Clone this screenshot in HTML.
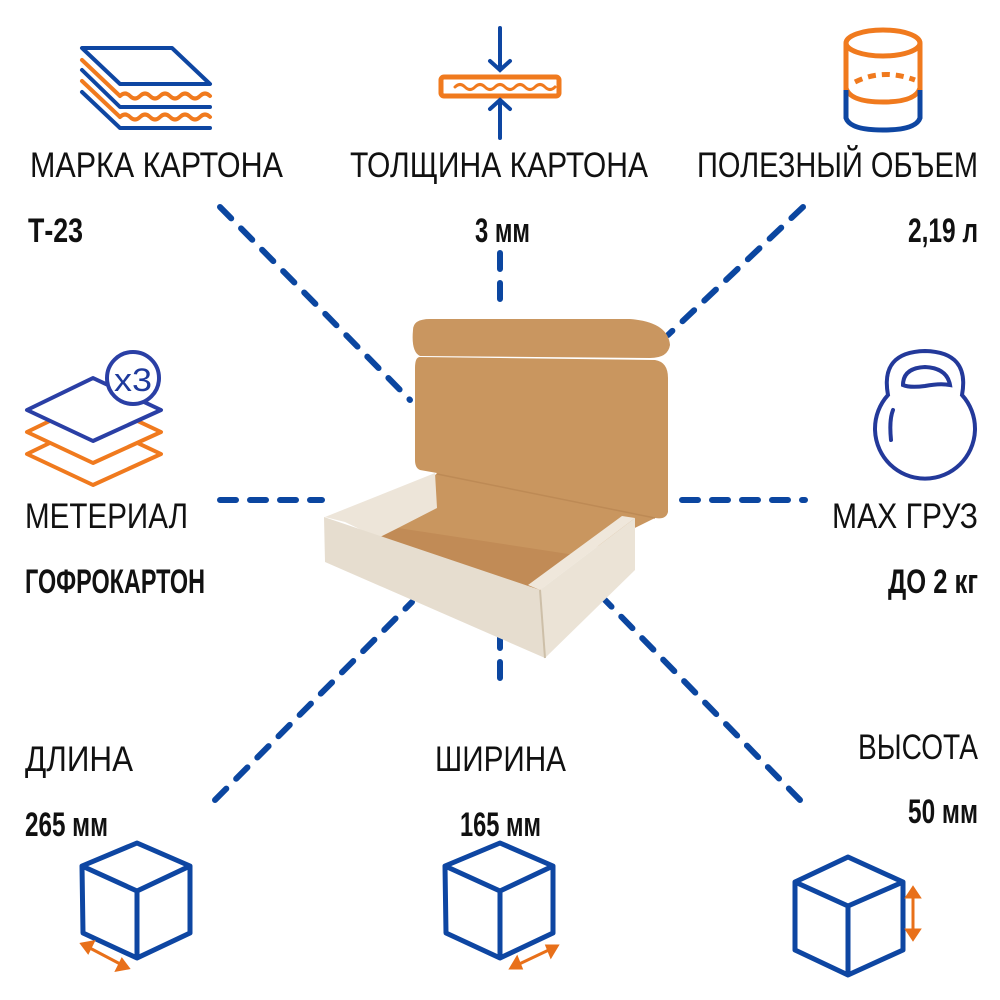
<!DOCTYPE html>
<html><head><meta charset="utf-8"><style>
html,body{margin:0;padding:0;background:#fff;width:1000px;height:1000px;overflow:hidden}
text{font-family:"Liberation Sans",sans-serif;fill:#111}
.l{font-size:35px}
.v{font-size:34px;font-weight:bold}
</style></head><body>
<svg width="1000" height="1000" viewBox="0 0 1000 1000" xmlns="http://www.w3.org/2000/svg">
<g stroke="#0b46a0" stroke-width="6" stroke-linecap="round" stroke-dasharray="16 14" fill="none">
<line x1="220" y1="207" x2="410" y2="400"/>
<line x1="500" y1="253" x2="500" y2="312"/>
<line x1="803" y1="207" x2="668" y2="335"/>
<line x1="220" y1="500" x2="322" y2="500"/>
<line x1="682" y1="500" x2="805" y2="500"/>
<line x1="215" y1="800" x2="412" y2="602"/>
<line x1="500" y1="632" x2="500" y2="690"/>
<line x1="800" y1="800" x2="605" y2="600"/>
</g>
<!-- box -->
<g>
<path d="M413,330 Q413,319 430,319 L630,319 Q668,322 670,345 Q668,358 650,358 L420,356 Q411,352 413,330Z" fill="#c99660"/>
<path d="M420,357 L655,360 Q668,362 668,378 L668,512 Q666,520 655,518 L578,556 L540,590 L378,538 L437,473 L420,470 Q415,468 415,460 L415,368 Q415,357 420,357Z" fill="#c9965f"/>
<line x1="437" y1="474" x2="655" y2="518" stroke="#bd8a55" stroke-width="1.5"/>
<path d="M398,528 L575,555 L540,590 L378,538Z" fill="#c18b56"/>
<path d="M325,517 L435,473 L437,508 L398,528 L378,538 L345,522Z" fill="#ede5d9"/>
<path d="M528,585 L622,516 L635,518 L540,590Z" fill="#efe7db"/>
<path d="M540,590 L635,518 L635,570 L545,658Z" fill="#ebe3d6"/>
<path d="M324,517 L540,590 L545,658 L325,562Z" fill="#e6ddcf"/>
<line x1="540" y1="590" x2="545" y2="658" stroke="#cdbfa8" stroke-width="2"/>
</g>
<!-- icon: layers -->
<g fill="none" stroke-width="4" stroke-linejoin="round" stroke-linecap="round">
<path d="M82,48 L172,48 L210,84 L120,84Z" stroke="#0e46a2"/>
<path d="M82,60 L120,96" stroke="#f07a1e"/><path d="M120,96 q5,-5 10,0 t10,0 t10,0 t10,0 t10,0 t10,0 t10,0 t10,0 t10,0" stroke="#f07a1e"/>
<path d="M82,70 L120,107 L210,107" stroke="#0e46a2"/>
<path d="M82,81 L120,117" stroke="#f07a1e"/><path d="M120,117 q5,-5 10,0 t10,0 t10,0 t10,0 t10,0 t10,0 t10,0 t10,0 t10,0" stroke="#f07a1e"/>
<path d="M82,92 L120,128 L210,128" stroke="#0e46a2"/>
</g>
<!-- thickness -->
<g fill="none" stroke-width="4" stroke-linecap="round">
<rect x="441" y="77" width="118" height="19" rx="3" stroke="#f07a1e" stroke-width="5"/>
<path d="M455,87 q5,-5 10,0 t10,0 t10,0 t10,0 t10,0 t10,0 t10,0 t10,0 t10,0 t10,0" stroke="#f07a1e" stroke-width="3"/>
<path d="M500,28 L500,70 M490,61 L500,70 L510,61" stroke="#0e46a2"/>
<path d="M500,138 L500,100 M490,109 L500,100 L510,109" stroke="#0e46a2"/>
</g>
<!-- cylinder -->
<g fill="none" stroke-width="5">
<ellipse cx="883" cy="43" rx="37" ry="13" stroke="#f07a1e"/>
<path d="M846,43 L846,92 M920,43 L920,92" stroke="#f07a1e"/>
<path d="M855,82 Q883,68 915,80" stroke="#f07a1e" stroke-dasharray="8 6"/>
<path d="M846,88 Q850,102 883,102 Q916,102 920,88" stroke="#f07a1e"/>
<path d="M846,90 L846,118 Q850,130 883,130 Q916,130 920,118 L920,90" stroke="#0e46a2"/>
</g>
<!-- material x3 -->
<g fill="none" stroke-width="4" stroke-linejoin="round">
<path d="M27,454 L93,422 L161,454 L93,485Z" stroke="#f07a1e"/>
<path d="M27,432 L93,400 L161,432 L93,463Z" stroke="#f07a1e" fill="#fff"/>
<path d="M27,410 L93,378 L161,410 L93,441Z" stroke="#2a3fa5" fill="#fff"/>
<circle cx="133" cy="378" r="26" stroke="#2a3fa5" fill="#fff"/>
</g>
<text x="133" y="391" text-anchor="middle" style="font-size:32px;fill:#1e3a9c" textLength="38" lengthAdjust="spacingAndGlyphs">x3</text>
<!-- kettlebell -->
<g fill="none" stroke="#23399a" stroke-width="4">
<path d="M888,395 Q880,352 925,351 Q970,352 962,395 A50,50 0 1 1 888,395Z"/>
<path d="M903,385 Q903,368 925,367 Q947,368 950,385 Q940,383 925,386 Q910,388 903,385Z"/>
<path d="M891,440 Q889,420 893,410" stroke-linecap="round"/>
</g>
<!-- cubes -->
<g fill="none" stroke="#0e46a2" stroke-width="5" stroke-linejoin="round">
<path d="M137,843 L190,866 L190,933 L137,958 L83,933 L82,866Z M82,866 L137,891 L190,866 M137,891 L137,958"/>
<path d="M500,843 L553,866 L553,933 L500,958 L446,933 L445,866Z M445,866 L500,891 L553,866 M500,891 L500,958"/>
<path d="M848,857 L903,882 L903,950 L848,975 L795,950 L795,882Z M795,882 L848,906 L903,882 M848,906 L848,975"/>
</g>
<g stroke="#e8701a" stroke-width="3" fill="#e8701a">
<line x1="86" y1="946" x2="124" y2="966"/><path d="M82,944 L93,942 L88,952Z M128,968 L117,970 L122,960Z"/>
<line x1="515" y1="966" x2="553" y2="948"/><path d="M511,968 L517,958 L521,968Z M557,946 L551,956 L547,946Z"/>
<line x1="913" y1="893" x2="913" y2="934"/><path d="M913,888 L907,897 L919,897Z M913,939 L907,930 L919,930Z"/>
</g>
<!-- labels -->
<text class="l" x="30" y="177" textLength="253" lengthAdjust="spacingAndGlyphs">МАРКА КАРТОНА</text>
<text class="v" x="28" y="242" textLength="55" lengthAdjust="spacingAndGlyphs">Т-23</text>
<text class="l" x="350" y="177" textLength="298" lengthAdjust="spacingAndGlyphs">ТОЛЩИНА КАРТОНА</text>
<text class="v" x="475" y="242" textLength="55" lengthAdjust="spacingAndGlyphs">3 мм</text>
<text class="l" x="697" y="177" textLength="281" lengthAdjust="spacingAndGlyphs">ПОЛЕЗНЫЙ ОБЪЕМ</text>
<text class="v" x="908" y="242" textLength="70" lengthAdjust="spacingAndGlyphs">2,19 л</text>
<text class="l" x="25" y="528" textLength="163" lengthAdjust="spacingAndGlyphs">МЕТЕРИАЛ</text>
<text class="v" x="25" y="593" textLength="180" lengthAdjust="spacingAndGlyphs">ГОФРОКАРТОН</text>
<text class="l" x="832" y="528" textLength="146" lengthAdjust="spacingAndGlyphs">MAX ГРУЗ</text>
<text class="v" x="888" y="593" textLength="90" lengthAdjust="spacingAndGlyphs">ДО 2 кг</text>
<text class="l" x="25" y="771" textLength="108" lengthAdjust="spacingAndGlyphs">ДЛИНА</text>
<text class="v" x="25" y="836" textLength="83" lengthAdjust="spacingAndGlyphs">265 мм</text>
<text class="l" x="435" y="771" textLength="131" lengthAdjust="spacingAndGlyphs">ШИРИНА</text>
<text class="v" x="460" y="836" textLength="81" lengthAdjust="spacingAndGlyphs">165 мм</text>
<text class="l" x="858" y="759" textLength="120" lengthAdjust="spacingAndGlyphs">ВЫСОТА</text>
<text class="v" x="908" y="823" textLength="70" lengthAdjust="spacingAndGlyphs">50 мм</text>
</svg>
</body></html>
